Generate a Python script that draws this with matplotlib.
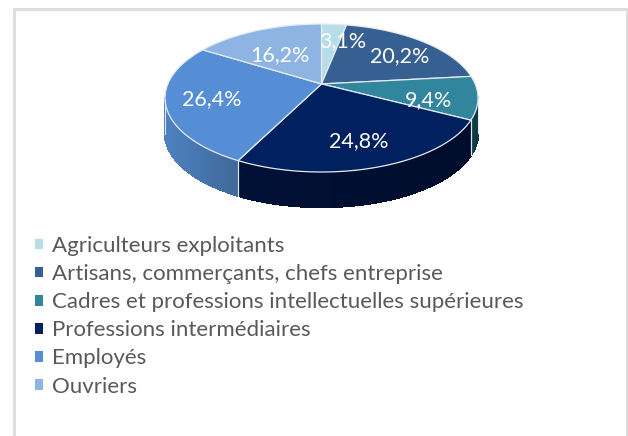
import numpy as np
import matplotlib
matplotlib.use('Agg')
import matplotlib.pyplot as plt
import matplotlib.patches as patches
from matplotlib.collections import PolyCollection
from matplotlib.colors import to_rgb

categories = ['Agriculteurs exploitants', 'Artisans, commerçants, chefs entreprise',
              'Cadres et professions intellectuelles supérieures', 'Professions intermédiaires',
              'Employés', 'Ouvriers']
values = [3.1, 20.2, 9.4, 24.8, 26.4, 16.2]
labels = ['3,1%', '20,2%', '9,4%', '24,8%', '26,4%', '16,2%']
colors = ['#b7dee8', '#376092', '#31859c', '#002060', '#558ed5', '#8eb4e3']
wall_colors = ['#8fb0b8', '#2a4a72', '#0e3d49', '#000f33', '#4a7bb6', '#6f90b8']

# pie geometry in pixels, the tilted disc is a projective map of a circle
cx, cy, rx, ry, depth = 321.5, 98, 156.5, 74, 35
k = -0.19
label_pos = [(343, 41), (400, 56), (428, 100), (359, 141), (212, 99), (280, 55)]


def project(theta, r=1.0):
    u = r * np.sin(theta)
    v = -r * np.cos(theta)
    d = 1 + k * v
    return cx + rx * u * np.sqrt(1 - k ** 2) / d, cy + ry * (v + k) / d


plt.rcParams['font.family'] = ['Lato', 'DejaVu Sans']
fig = plt.figure(figsize=(6.28, 4.36), dpi=100)
ax = fig.add_axes([0, 0, 1, 1])
ax.set_xlim(0, 628)
ax.set_ylim(436, 0)
ax.axis('off')

ax.add_patch(patches.Rectangle((13.5, 9.5), 613, 440, linewidth=2, edgecolor='#dcdcdc', facecolor='white'))

edges = np.cumsum([0] + values) / sum(values) * 2 * np.pi
apex = project(0, 0)

# side wall first
for i in range(len(values)):
    t = np.linspace(edges[i], edges[i + 1], 120)
    x, y = project(t)
    keep = y >= cy
    if keep.sum() < 2:
        continue
    x, y = x[keep], y[keep]
    base = np.array(to_rgb(wall_colors[i]))
    quads = []
    cols = []
    for j in range(len(x) - 1):
        quads.append([(x[j], y[j]), (x[j + 1], y[j + 1]), (x[j + 1], y[j + 1] + depth), (x[j], y[j] + depth)])
        shade = 1.05 - 0.2 * (x[j] - x.min()) / max(x.max() - x.min(), 1)
        cols.append(np.clip(base * shade, 0, 1))
    ax.add_collection(PolyCollection(quads, facecolors=cols, edgecolors=cols, linewidths=1.0, antialiaseds=False))
    # light seam at the slice ends
    ax.plot([x[0], x[0]], [y[0], y[0] + depth], color='#dfe6ee', lw=0.8)
    ax.plot([x[-1], x[-1]], [y[-1], y[-1] + depth], color='#dfe6ee', lw=0.8)

# top of the pie
for i in range(len(values)):
    t = np.linspace(edges[i], edges[i + 1], 120)
    x, y = project(t)
    px = np.concatenate([[apex[0]], x])
    py = np.concatenate([[apex[1]], y])
    ax.fill(px, py, facecolor=colors[i], edgecolor='#e4ebf3', linewidth=0.9, joinstyle='round')

for (lx, ly), lab in zip(label_pos, labels):
    ax.text(lx, ly, lab, color='white', fontsize=15.5, ha='center', va='center')

handles = [patches.Patch(facecolor=c, edgecolor='none') for c in colors]
ax.legend(handles, categories, loc='upper left', bbox_to_anchor=(35 / 628, 1 - 236 / 436), frameon=False,
          fontsize=16, labelcolor='#595959', handlelength=0.36, handleheight=0.36, handletextpad=0.4,
          labelspacing=0.365, borderpad=0, borderaxespad=0)

fig.savefig('out.png', dpi=100)
